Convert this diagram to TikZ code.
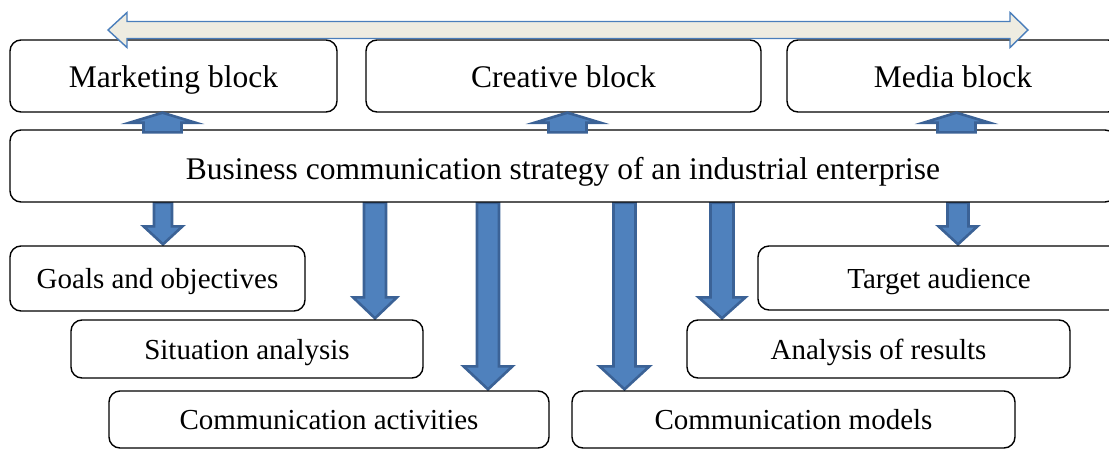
\documentclass[tikz,border=0pt]{standalone}
\usepackage{fontspec}
\setmainfont{Liberation Serif}
\usetikzlibrary{calc,backgrounds}
\definecolor{abfill}{HTML}{4F81BD}
\definecolor{abdraw}{HTML}{3B6296}
\definecolor{topfill}{HTML}{EEECE1}
\definecolor{topdraw}{HTML}{4A7EBB}
\tikzset{
  box/.style={draw=black, line width=1.4pt, rounded corners=11pt, fill=white, inner sep=0pt, text depth=0pt},
  bigtxt/.style={font=\fontsize{31.5}{36}\selectfont, text height=22pt},
  smalltxt/.style={font=\fontsize{29}{34}\selectfont, text height=20pt},
  blockarrow/.style={fill=abfill, draw=abdraw, line width=2.6pt, line join=miter},
  toparrow/.style={fill=topfill, draw=topdraw, line width=1.4pt, line join=miter}
}
% #1 x (px), #2 source node (below), #3 target node (above), #4 shaft half, #5 head half, #6 head height
\newcommand{\blkup}[6]{%
  \draw[blockarrow] let \p1=(#2.north), \p2=(#3.south) in
    (#1pt-#4pt,\y1-3pt) -- (#1pt-#4pt,\y2-#6pt) -- (#1pt-#5pt,\y2-#6pt) -- (#1pt,\y2)
    -- (#1pt+#5pt,\y2-#6pt) -- (#1pt+#4pt,\y2-#6pt) -- (#1pt+#4pt,\y1-3pt) -- cycle;}
% #1 x (px), #2 source node (above), #3 target node (below), #4 shaft half, #5 head half, #6 head height
\newcommand{\blkdown}[6]{%
  \draw[blockarrow] let \p1=(#2.south), \p2=(#3.north) in
    (#1pt-#4pt,\y1) -- (#1pt-#4pt,\y2+#6pt) -- (#1pt-#5pt,\y2+#6pt) -- (#1pt,\y2+1pt)
    -- (#1pt+#5pt,\y2+#6pt) -- (#1pt+#4pt,\y2+#6pt) -- (#1pt+#4pt,\y1) -- cycle;}
\begin{document}
\begin{tikzpicture}[x=1pt,y=-1pt]
\useasboundingbox (0,0) rectangle (1109,448);
\clip (0,0) rectangle (1109,448);

% top row
\node[box, bigtxt, minimum width=327pt, minimum height=72pt] (mkt) at (173.5,76) {Marketing block};
\node[box, bigtxt, minimum width=395pt, minimum height=72pt] (cre) at (563.5,76) {Creative block};
\node[box, bigtxt, minimum width=332pt, minimum height=72pt] (med) at (953,76) {Media block};

% strategy
\node[box, font=\fontsize{31.5}{36}\selectfont, text height=26pt, minimum width=1106pt, minimum height=72pt] (biz) at (563,166)
  {Business communication strategy of an industrial enterprise};

% lower boxes
\node[box, smalltxt, minimum width=295pt, minimum height=65pt] (goals) at (157.5,278.5) {Goals and objectives};
\node[box, smalltxt, minimum width=362pt, minimum height=64pt] (tgt) at (939,278) {Target audience};
\node[box, smalltxt, minimum width=352pt, minimum height=58pt] (sit) at (247,349) {Situation analysis};
\node[box, smalltxt, minimum width=383pt, minimum height=58pt] (ana) at (878.5,349) {Analysis of results};
\node[box, smalltxt, minimum width=440pt, minimum height=57pt] (act) at (329,419.5) {Communication activities};
\node[box, smalltxt, minimum width=443pt, minimum height=57pt] (mod) at (793.5,419.5) {Communication models};

% down arrows (behind the boxes)
\begin{scope}[on background layer]
\blkdown{163}{biz}{goals}{9}{19.5}{19}
\blkdown{375}{biz}{sit}{11}{22}{22}
\blkdown{488}{biz}{act}{11}{24.5}{24}
\blkdown{624.5}{biz}{mod}{11}{25}{24}
\blkdown{722}{biz}{ana}{11.5}{23.5}{22}
\blkdown{958}{biz}{tgt}{10.5}{19.5}{19}
\end{scope}

% up arrows
\blkup{162.5}{biz}{mkt}{19}{33}{10}
\blkup{567.5}{biz}{cre}{19}{33}{10}
\blkup{956.5}{biz}{med}{19}{33}{10}

% top double arrow
\coordinate (L) at (108,30);
\coordinate (R) at (1028,30);
\draw[toparrow] let \p1=(L), \p2=(R) in
  (\x1,\y1) -- (\x1+19pt,\y1+17.5pt) -- (\x1+19pt,\y1+8.5pt) -- (\x2-18pt,\y1+8.5pt)
  -- (\x2-18pt,\y1+17.5pt) -- (\x2,\y2) -- (\x2-18pt,\y2-17.5pt) -- (\x2-18pt,\y2-8.5pt)
  -- (\x1+19pt,\y2-8.5pt) -- (\x1+19pt,\y2-17.5pt) -- cycle;
\end{tikzpicture}
\end{document}
